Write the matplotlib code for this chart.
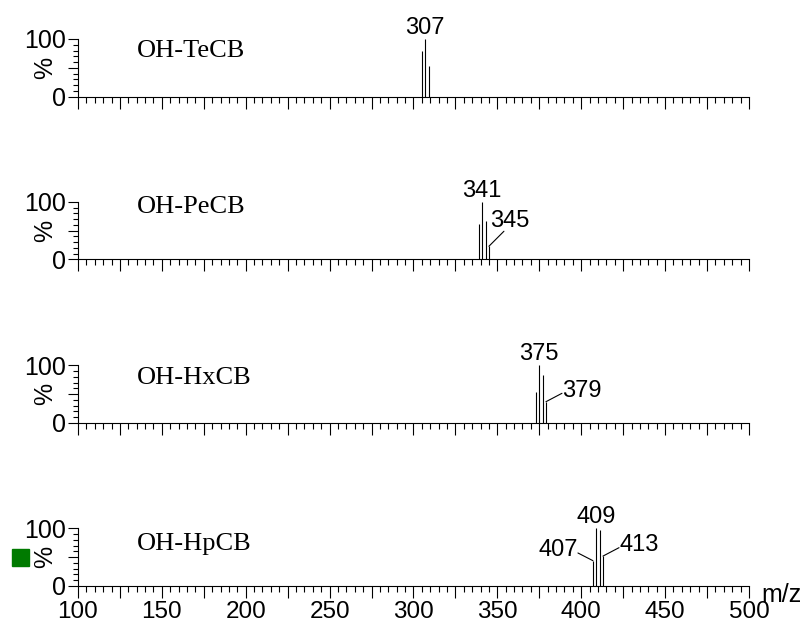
import matplotlib
matplotlib.use("Agg")
import matplotlib.pyplot as plt
from matplotlib.patches import Rectangle
from matplotlib.ticker import MultipleLocator

# compound names, one panel each
names = ["OH-TeCB", "OH-PeCB", "OH-HxCB", "OH-HpCB"]

# m/z of the isotope peaks and their relative intensity (%)
mz_tecb = [305, 307, 309]
int_tecb = [79, 100, 53]
mz_pecb = [339, 341, 343, 345]
int_pecb = [62, 100, 67, 23]
mz_hxcb = [373, 375, 377, 379]
int_hxcb = [53, 100, 84, 37]
mz_hpcb = [407, 409, 411, 413]
int_hpcb = [44, 100, 97, 52]

peaks = [(mz_tecb, int_tecb), (mz_pecb, int_pecb),
         (mz_hxcb, int_hxcb), (mz_hpcb, int_hpcb)]

# labelled peaks: (panel, m/z, label) ; top labels sit above the bar,
# side labels get a short leader line
top_labels = [(0, 307), (1, 341), (2, 375), (3, 409)]
side_labels = [(1, 345, "right_up"), (2, 379, "right"),
               (3, 407, "left"), (3, 413, "right")]

xticklabels = [100, 150, 200, 250, 300, 350, 400, 450, 500]

sans = "Liberation Sans"
serif = "Liberation Serif"

fig = plt.figure(figsize=(8.08, 6.26), dpi=100)

bottoms = [0.8458, 0.5855, 0.3243, 0.0639]
name_y = [69, 80, 68, 63]
px = 0.72  # points per pixel at 100 dpi

axes = []
for i in range(4):
    ax = fig.add_axes([0.0965, bottoms[i], 0.8304, 0.0919])
    axes.append(ax)
    mz, inten = peaks[i]
    ax.vlines(mz, 0, inten, color="black", lw=0.8)
    ax.set_xlim(100, 500)
    ax.set_ylim(0, 100)
    ax.spines["top"].set_visible(False)
    ax.spines["right"].set_visible(False)
    ax.spines["left"].set_linewidth(0.8)
    ax.spines["bottom"].set_linewidth(0.8)
    ax.xaxis.set_major_locator(MultipleLocator(25))
    ax.xaxis.set_minor_locator(MultipleLocator(5))
    ax.yaxis.set_major_locator(MultipleLocator(50))
    ax.yaxis.set_minor_locator(MultipleLocator(10))
    ax.tick_params(axis="x", which="major", length=8.6, width=0.8, pad=2.5)
    ax.tick_params(axis="x", which="minor", length=4.0, width=0.8)
    ax.tick_params(axis="y", which="major", length=7.5, width=0.8, pad=1)
    ax.tick_params(axis="y", which="minor", length=3.6, width=0.8)
    ax.set_yticks([0, 50, 100])
    ax.set_yticklabels(["0", "", "100"], fontsize=18, family=sans)
    ax.set_xticks(range(100, 501, 25))
    if i == 3:
        ax.set_xticklabels([str(v) if v in xticklabels else ""
                            for v in range(100, 501, 25)],
                           fontsize=17.5, family=sans)
    else:
        ax.set_xticklabels([])
    ax.text(-0.049, 0.5, "%", transform=ax.transAxes, rotation=90,
            ha="center", va="center", fontsize=18, family=sans)
    ax.text(135, name_y[i], names[i], ha="left", va="baseline",
            fontsize=19, family=serif)

for i, m in top_labels:
    mz, inten = peaks[i]
    h = inten[mz.index(m)]
    axes[i].annotate(str(m), xy=(m, h), xytext=(0, 5 * px),
                     textcoords="offset points", ha="center",
                     va="baseline", fontsize=17, family=sans)

for i, m, side in side_labels:
    mz, inten = peaks[i]
    h = inten[mz.index(m)]
    if side == "right_up":
        line_end, txt, ha = (15, 15), (1, 19), "left"
    elif side == "right":
        line_end, txt, ha = (16, 8.4), (16, 4.7), "left"
    else:
        line_end, txt, ha = (-15, 7.7), (-15, 5), "right"
    axes[i].annotate("", xy=(m, h),
                     xytext=(line_end[0] * px, line_end[1] * px),
                     textcoords="offset points",
                     arrowprops=dict(arrowstyle="-", lw=0.8, color="black",
                                     shrinkA=0, shrinkB=0))
    axes[i].annotate(str(m), xy=(m, h), xytext=(txt[0] * px, txt[1] * px),
                     textcoords="offset points", ha=ha, va="baseline",
                     fontsize=17, family=sans)

axes[3].text(1.019, -0.28, "m/z", transform=axes[3].transAxes,
             ha="left", va="baseline", fontsize=18, family=sans)

fig.patches.append(Rectangle((12 / 808, 60 / 626), 17 / 808, 17 / 626,
                             transform=fig.transFigure, color="#007a00"))

fig.savefig("out.png", dpi=100)
